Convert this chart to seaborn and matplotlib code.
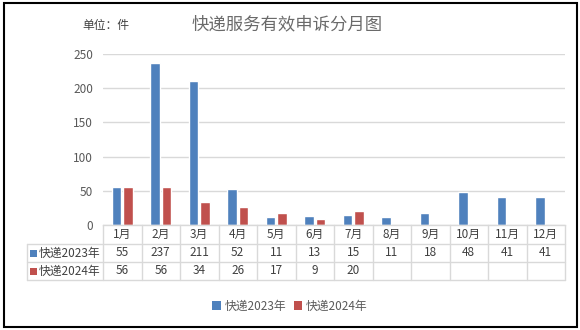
import matplotlib
matplotlib.use('Agg')
import numpy as np
import pandas as pd
import seaborn as sns
import matplotlib.pyplot as plt
from matplotlib.transforms import blended_transform_factory
from matplotlib.lines import Line2D
from matplotlib.patches import Rectangle, Patch

# ---- data ----
months = ['1月', '2月', '3月', '4月', '5月', '6月', '7月', '8月', '9月', '10月', '11月', '12月']
series = ['快递2023年', '快递2024年']
v2023 = [55, 237, 211, 52, 11, 13, 15, 11, 18, 48, 41, 41]
v2024 = [56, 56, 34, 26, 17, 9, 20, None, None, None, None, None]
title = '快递服务有效申诉分月图'
unit = '单位：件'
yticks = [0, 50, 100, 150, 200, 250]

colors = ['#4F81BD', '#C0504D']
grid_c = '#D9D9D9'
text_c = '#404040'

sns.set_theme(style='white')
plt.rcParams['font.family'] = ['Noto Sans CJK SC', 'DejaVu Sans']

W, H = 580, 330
fig = plt.figure(figsize=(W / 100, H / 100), dpi=100)
fig.patch.set_facecolor('white')


def fx(px):
    return px / W


def fy(py):
    return 1 - py / H


ax = fig.add_axes([fx(103), fy(225), fx(565) - fx(103), fy(54) - fy(225)])

rows = []
for m, a, b in zip(months, v2023, v2024):
    rows.append((m, series[0], a))
    if b is not None:
        rows.append((m, series[1], b))
df = pd.DataFrame(rows, columns=['month', 'series', 'value'])

sns.barplot(data=df, x='month', y='value', hue='series', order=months,
            hue_order=series, palette=colors, width=0.6, gap=0.17,
            errorbar=None, saturation=1, ax=ax, legend=False)

ax.set_xlim(-0.5, len(months) - 0.5)
ax.set_ylim(0, 250)
ax.set_yticks(yticks)
ax.yaxis.grid(True, color=grid_c, lw=1)
ax.set_axisbelow(True)
for s in ['top', 'right', 'left']:
    ax.spines[s].set_visible(False)
ax.spines['bottom'].set_color(grid_c)
ax.spines['bottom'].set_linewidth(1)
ax.tick_params(axis='y', length=0, labelsize=8.5, labelcolor='#595959', pad=7)
ax.set_xticks([])
ax.set_xlabel('')
ax.set_ylabel('')
ax.patch.set_alpha(0)

# ---- data table ----
bt = blended_transform_factory(ax.transData, fig.transFigure)
for y in [244, 262, 280]:
    fig.add_artist(Line2D([fx(27), fx(565)], [fy(y)] * 2, transform=fig.transFigure,
                          color=grid_c, lw=1))
fig.add_artist(Line2D([fx(27), fx(27)], [fy(244), fy(280)], transform=fig.transFigure,
                      color=grid_c, lw=1))
for i in range(len(months) + 1):
    x = i - 0.5
    ax.add_line(Line2D([x, x], [fy(225), fy(280)], transform=bt, color=grid_c,
                       lw=1, clip_on=False))

for i, m in enumerate(months):
    ax.text(i, fy(234.5), m, transform=bt, ha='center', va='center',
            fontsize=8.5, color=text_c)
    ax.text(i, fy(253), str(v2023[i]), transform=bt, ha='center', va='center',
            fontsize=8.5, color=text_c)
    if v2024[i] is not None:
        ax.text(i, fy(271), str(v2024[i]), transform=bt, ha='center', va='center',
                fontsize=8.5, color=text_c)

for yy, name, c in [(253, series[0], colors[0]), (271, series[1], colors[1])]:
    fig.add_artist(Rectangle((fx(30), fy(yy + 3.5)), fx(7), 7 / H,
                             transform=fig.transFigure, fc=c, ec='none'))
    fig.text(fx(39), fy(yy), name, ha='left', va='center', fontsize=8.5, color=text_c)

# ---- legend ----
handles = [Patch(facecolor=c, edgecolor='none') for c in colors]
fig.legend(handles, series, loc='center', bbox_to_anchor=(fx(290), fy(306)),
           ncol=2, frameon=False, fontsize=8.5, handlelength=0.7, handleheight=0.7,
           handletextpad=0.35, columnspacing=0.6, labelcolor='#595959')

# ---- titles ----
fig.text(fx(287), fy(24), title, ha='center', va='center', fontsize=12.5,
         color='#6a6a6a')
fig.text(fx(82), fy(25), unit, ha='left', va='center', fontsize=8.5, color=text_c)

# ---- chart border ----
fig.add_artist(Rectangle((fx(4), fy(327)), fx(577) - fx(4), fy(3) - fy(327),
                         transform=fig.transFigure, fill=False, ec='black', lw=1.5))

fig.savefig('out.png', dpi=100)
